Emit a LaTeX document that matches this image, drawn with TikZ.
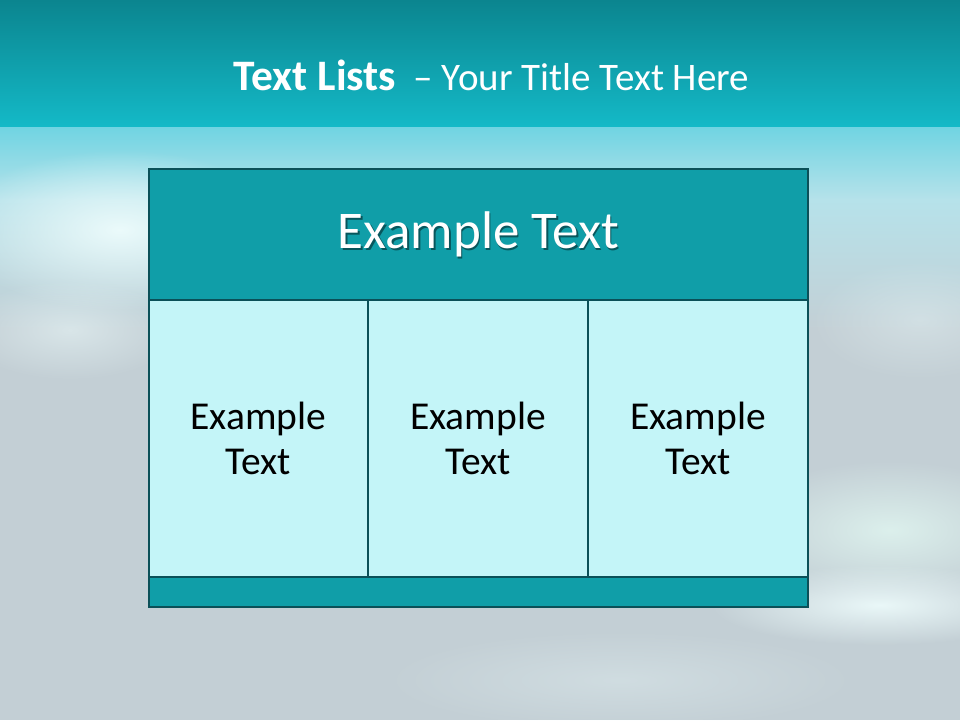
\documentclass[tikz,border=0pt]{standalone}
\usepackage{fontspec}
\setmainfont{Carlito}
\usetikzlibrary{fadings}
\tikzfading[name=glowfade, inner color=transparent!0, outer color=transparent!100]
\definecolor{bgc}{HTML}{C3CFD5}
\definecolor{bandtop}{HTML}{0B858F}
\definecolor{bandbot}{HTML}{14B9C7}
\definecolor{bandfade}{HTML}{6FD4E2}
\definecolor{fademid}{HTML}{B6E2EA}
\definecolor{glowc}{HTML}{EEFCFC}
\definecolor{glowg}{HTML}{E2F8F2}
\definecolor{edgec}{HTML}{0B5058}
\definecolor{headfill}{HTML}{109EA8}
\definecolor{cellfill}{HTML}{C4F5F8}
\tikzset{
  glow/.style={fill=glowc, path fading=glowfade},
  cellbox/.style={draw=edgec, line width=2.8pt, fill=cellfill, inner sep=0pt,
    minimum height=277pt, align=center, text=black,
    font=\fontsize{39.5}{45}\selectfont},
  headbox/.style={draw=edgec, line width=2.8pt, fill=headfill, inner sep=0pt,
    minimum width=659pt, minimum height=131pt},
  footbox/.style={draw=edgec, line width=2.8pt, fill=headfill, inner sep=0pt,
    minimum width=659pt, minimum height=30pt},
  headtext/.style={text=white, font=\fontsize{53}{60}\selectfont},
  titletext/.style={text=white, font=\fontsize{39}{48}\selectfont}
}
\begin{document}
\begin{tikzpicture}[x=1pt,y=-1pt]
\useasboundingbox (0,0) rectangle (960,720);
% background
\fill[bgc] (0,0) rectangle (960,720);
\shade[top color=bandfade, bottom color=fademid] (0,126) rectangle (960,200);
\shade[top color=fademid, bottom color=bgc] (0,199.5) rectangle (960,330);
\fill[glow, opacity=0.95] (120,230) ellipse (170pt and 80pt);
\fill[glow, opacity=0.5] (70,330) ellipse (110pt and 50pt);
\fill[glow, opacity=0.35] (920,320) ellipse (110pt and 60pt);
\fill[glow, fill=glowg, opacity=0.8] (890,530) ellipse (160pt and 70pt);
\fill[glow, opacity=0.9] (880,605) ellipse (170pt and 40pt);
\fill[glow, opacity=0.3] (620,680) ellipse (240pt and 50pt);
% title band
\shade[top color=bandtop, bottom color=bandbot] (0,0) rectangle (960,126);
\node[titletext] (title) at (491.5,75) {{\fontsize{43.5}{48}\selectfont\bfseries Text Lists}~~– Your Title Text Here};
% table
\node[headbox] (head) at (478.5,234.5) {};
\node[headtext, text=black, opacity=0.45] (headshadow) at (480,236) {Example Text};
\node[headtext] (headlabel) at (478.5,234.5) {Example Text};
\node[cellbox, minimum width=219pt] (c1) at (258.5,438.5) {Example\\Text};
\node[cellbox, minimum width=220pt] (c2) at (478,438.5) {Example\\Text};
\node[cellbox, minimum width=220pt] (c3) at (698,438.5) {Example\\Text};
\node[footbox] (foot) at (478.5,592) {};
\end{tikzpicture}
\end{document}
